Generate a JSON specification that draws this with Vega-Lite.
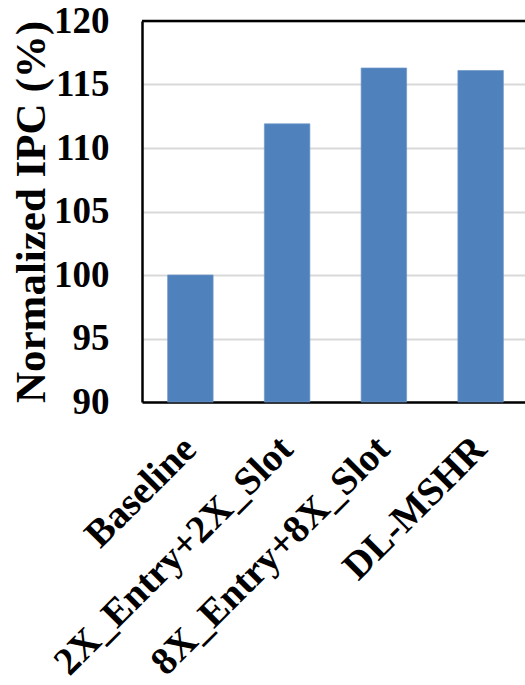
{
  "$schema": "https://vega.github.io/schema/vega-lite/v6.json",
  "autosize": "none",
  "padding": {"left": 142, "top": 21, "right": 0, "bottom": 283},
  "width": 383,
  "height": 381,
  "background": "white",
  "config": {
    "view": {"stroke": null},
    "font": "Liberation Serif"
  },
  "data": {
    "values": [
      {"config": "Baseline", "ipc": 100.0},
      {"config": "2X_Entry+2X_Slot", "ipc": 111.9},
      {"config": "8X_Entry+8X_Slot", "ipc": 116.3},
      {"config": "DL-MSHR", "ipc": 116.1}
    ]
  },
  "layer": [
    {
      "mark": {"type": "bar", "color": "#4F81BD", "stroke": "#6E97C9", "strokeWidth": 0.7},
      "encoding": {
        "x": {
          "field": "config",
          "type": "nominal",
          "sort": null,
          "scale": {"range": [0, 387], "paddingInner": 0.53, "paddingOuter": 0.265},
          "axis": {
            "title": null,
            "labelAngle": -45,
            "labelFont": "Liberation Serif",
            "labelFontWeight": "bold",
            "labelFontSize": 39,
            "labelColor": "black",
            "labelPadding": 27,
            "labelOffset": -14,
            "ticks": false,
            "domainColor": "black",
            "domainWidth": 2.5,
            "labelLimit": 0
          }
        },
        "y": {
          "field": "ipc",
          "type": "quantitative",
          "scale": {"domain": [90, 120], "nice": false, "zero": false},
          "axis": {
            "title": "Normalized IPC (%)",
            "titleFont": "Liberation Serif",
            "titleFontWeight": "bold",
            "titleFontSize": 43,
            "titleColor": "black",
            "titlePadding": 0,
            "values": [90, 95, 100, 105, 110, 115, 120],
            "labelFont": "Liberation Serif",
            "labelFontWeight": "bold",
            "labelFontSize": 37,
            "labelColor": "black",
            "labelPadding": 33,
            "ticks": false,
            "domainColor": "black",
            "domainWidth": 2.5,
            "gridColor": "#D9D9D9",
            "gridWidth": 2
          }
        },
        "y2": {"datum": 90}
      }
    },
    {
      "data": {"values": [{"top": 120}]},
      "mark": {"type": "rule", "color": "black", "strokeWidth": 2.5},
      "encoding": {
        "y": {"field": "top", "type": "quantitative"}
      }
    }
  ]
}
